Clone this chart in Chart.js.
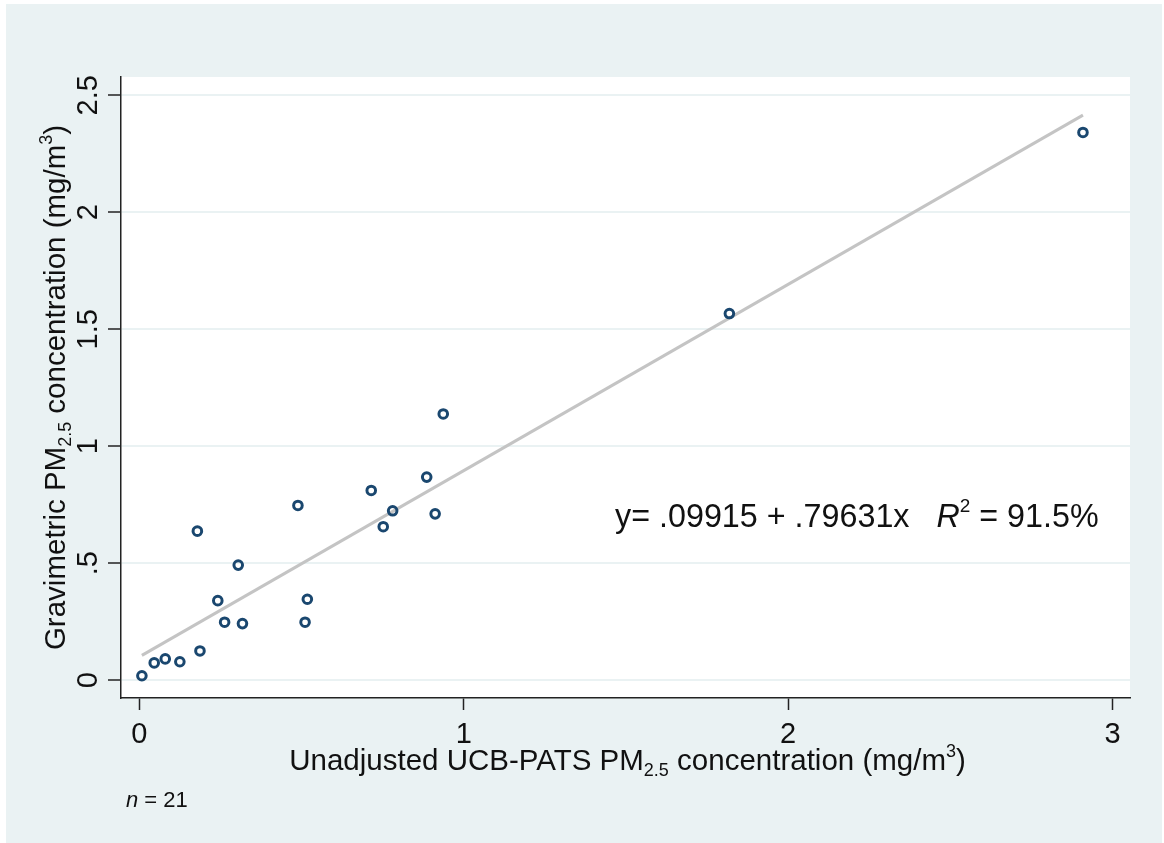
<!DOCTYPE html>
<html>
<head>
<meta charset="utf-8">
<script src="https://cdn.jsdelivr.net/npm/chart.js@4.4.1/dist/chart.umd.min.js"></script>
<style>
  html, body { margin: 0; padding: 0; background: #fff; }
  #wrap { width: 1164px; height: 843px; }
</style>
</head>
<body>
<div id="wrap"><canvas id="chart" width="1164" height="843"></canvas></div>
<script>
// unadjusted UCB-PATS readings (x) against gravimetric (y), mg/m3
const ucbPats = [0.008, 0.046, 0.080, 0.125, 0.187, 0.179, 0.242, 0.263, 0.305, 0.318, 0.489,
                 0.511, 0.518, 0.715, 0.752, 0.781, 0.886, 0.912, 0.937, 1.819, 2.909];
const gravimetric = [0.019, 0.074, 0.091, 0.079, 0.125, 0.637, 0.340, 0.248, 0.492, 0.242, 0.747,
                     0.248, 0.346, 0.811, 0.656, 0.724, 0.868, 0.711, 1.138, 1.567, 2.341];

// ends of the fitted line as drawn
const fitX = [0.008, 2.909];
const fitY = [0.106, 2.415];

const xTicks = [0, 1, 2, 3];
const xTickLabels = ['0', '1', '2', '3'];
const yTicks = [0, 0.5, 1, 1.5, 2, 2.5];
const yTickLabels = ['0', '.5', '1', '1.5', '2', '2.5'];

const FONT = '"Liberation Sans", Arial, sans-serif';
const INK = '#111';

// draws text runs with optional italic / sub / superscript parts
function drawRich(ctx, parts, x, y, size, align, angle) {
    ctx.save();
    ctx.translate(x, y);
    ctx.rotate(angle || 0);
    ctx.textBaseline = 'alphabetic';
    ctx.textAlign = 'left';
    ctx.fillStyle = INK;
    const fontFor = p => (p.italic ? 'italic ' : '') + ((p.sub || p.sup) ? Math.round(size * 0.6) : size) + 'px ' + FONT;
    let total = 0;
    parts.forEach(p => {
        ctx.font = fontFor(p);
        p.w = ctx.measureText(p.t).width;
        total += p.w;
    });
    let cx = align === 'center' ? -total / 2 : (align === 'right' ? -total : 0);
    parts.forEach(p => {
        ctx.font = fontFor(p);
        const dy = p.sub ? size * 0.2 : (p.sup ? -size * 0.45 : 0);
        ctx.fillText(p.t, cx, dy);
        cx += p.w;
    });
    ctx.restore();
}

const framePlugin = {
    id: 'frame',
    beforeDraw(chart) {
        const { ctx, chartArea } = chart;
        ctx.save();
        ctx.fillStyle = '#ffffff';
        ctx.fillRect(0, 0, chart.width, chart.height);
        ctx.fillStyle = '#eaf2f3';
        ctx.fillRect(6, 4, chart.width - 8, chart.height - 4);
        ctx.fillStyle = '#ffffff';
        ctx.fillRect(chartArea.left, chartArea.top, chartArea.right - chartArea.left, chartArea.bottom - chartArea.top);
        ctx.restore();
    },
    afterDraw(chart) {
        const { ctx, chartArea } = chart;
        const xs = chart.scales.x;
        const ys = chart.scales.y;

        xTicks.forEach((v, i) => {
            drawRich(ctx, [{ t: xTickLabels[i] }], xs.getPixelForValue(v), 743, 29, 'center');
        });
        yTicks.forEach((v, i) => {
            drawRich(ctx, [{ t: yTickLabels[i] }], 97, ys.getPixelForValue(v), 29, 'center', -Math.PI / 2);
        });

        drawRich(ctx, [
            { t: 'Unadjusted UCB-PATS PM' }, { t: '2.5', sub: true },
            { t: ' concentration (mg/m' }, { t: '3', sup: true }, { t: ')' }
        ], (chartArea.left + chartArea.right) / 2 + 2, 770, 29.5, 'center');

        drawRich(ctx, [
            { t: 'Gravimetric PM' }, { t: '2.5', sub: true },
            { t: ' concentration (mg/m' }, { t: '3', sup: true }, { t: ')' }
        ], 65, (chartArea.top + chartArea.bottom) / 2, 29.5, 'center', -Math.PI / 2);

        drawRich(ctx, [
            { t: 'y= .09915 + .79631x   ' }, { t: 'R', italic: true }, { t: '2', sup: true }, { t: ' = 91.5%' }
        ], 615, 527, 32.3, 'left');

        drawRich(ctx, [{ t: 'n', italic: true }, { t: ' = 21' }], 126, 807, 22, 'left');
    }
};

const points = ucbPats.map((x, i) => ({ x: x, y: gravimetric[i] }));
const fitLine = fitX.map((x, i) => ({ x: x, y: fitY[i] }));

new Chart(document.getElementById('chart'), {
    type: 'scatter',
    data: {
        datasets: [{
            label: 'gravimetric',
            data: points,
            pointStyle: 'circle',
            pointRadius: 4.3,
            pointBorderWidth: 3,
            pointBorderColor: '#1a476f',
            pointBackgroundColor: 'rgba(255,255,255,0)',
            showLine: false
        }, {
            label: 'fit',
            data: fitLine,
            showLine: true,
            borderColor: '#c4c4c4',
            borderWidth: 3,
            pointRadius: 0
        }]
    },
    options: {
        responsive: false,
        animation: false,
        devicePixelRatio: 1,
        layout: { padding: { top: 77, right: 34, bottom: 0, left: 0 } },
        plugins: { legend: { display: false }, tooltip: { enabled: false } },
        scales: {
            x: {
                type: 'linear',
                min: -0.0564,
                max: 3.054,
                afterFit: scale => { scale.height = 145; },
                afterBuildTicks: scale => { scale.ticks = xTicks.map(v => ({ value: v })); },
                ticks: { display: false },
                grid: { drawOnChartArea: false, drawTicks: true, tickLength: 12, tickColor: '#222', tickWidth: 1.5 },
                border: { color: '#222', width: 1.5 }
            },
            y: {
                type: 'linear',
                min: -0.076,
                max: 2.578,
                afterFit: scale => { scale.width = 121; },
                afterBuildTicks: scale => { scale.ticks = yTicks.map(v => ({ value: v })); },
                ticks: { display: false },
                grid: { color: '#eaf2f3', lineWidth: 2, drawTicks: true, tickLength: 13, tickColor: '#222', tickWidth: 1.5 },
                border: { color: '#222', width: 1.5 }
            }
        }
    },
    plugins: [framePlugin]
});
</script>
</body>
</html>
